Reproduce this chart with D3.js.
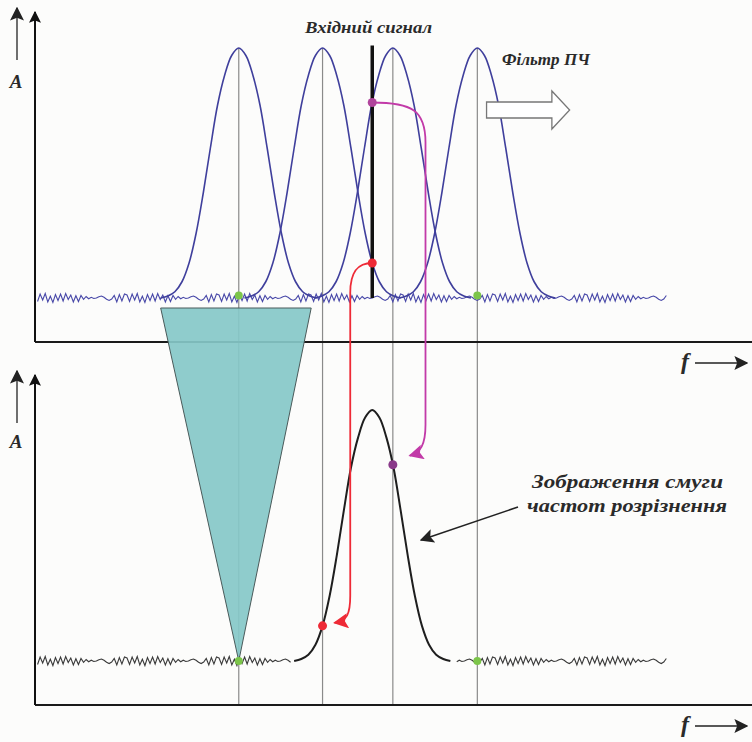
<!DOCTYPE html>
<html>
<head>
<meta charset="utf-8">
<script src="https://cdn.jsdelivr.net/npm/d3@7"></script>
<style>
  body { margin: 0; background: #fcfcfb; }
  svg { display: block; }
  .lbl { font-family: "Liberation Serif", "DejaVu Serif", serif; font-weight: bold; font-style: italic; fill: #2a2a2a; }
</style>
</head>
<body>
<div id="chart"></div>
<script>
// Filter centre frequencies (arbitrary f units, 0..100)
var filterCenters = [28.7, 40.5, 50.4, 62.3];
// Input signal
var signalFreq = 47.5;
var signalAmp = 1.01;
// Filter shape: offset from centre (f units) and relative amplitude
var shapeOffsets = [-11, -10, -9, -8, -7, -6, -5, -4, -3, -2, -1, 0, 1, 2, 3, 4, 5, 6, 7, 8, 9, 10, 11];
var shapeValues  = [0, 0.008, 0.025, 0.065, 0.14, 0.26, 0.42, 0.6, 0.77, 0.89, 0.97, 1, 0.97, 0.89, 0.77, 0.6, 0.42, 0.26, 0.14, 0.065, 0.025, 0.008, 0];
// Noise floor pattern (amplitude units), repeated along the axis
var noisePattern = [0.012, -0.014, 0.016, -0.008, 0.018, -0.016, 0.007, -0.018, 0.014, -0.01, 0.016, -0.012, 0.018, -0.006, 0.012, -0.016, 0.009, -0.014, 0.01, -0.005, 0.006, -0.003, 0.003, -0.002, 0, 0.005, 0.008, 0.003, -0.005, -0.01, -0.004, 0.01, -0.016, 0.014, -0.012, 0.016];
var noiseStep = 0.36;
var noiseEnd = 89.2;
// Frequencies where green "zero response" dots sit
var zeroDots = [28.7, 62.3];
// Texts
var signalLabel = "Вхідний сигнал";
var filterLabel = "Фільтр ПЧ";
var rbwLabel = ["Зображення смуги", "частот розрізнення"];

var W = 752, H = 742;
var svg = d3.select("#chart").append("svg").attr("width", W).attr("height", H);

var x = d3.scaleLinear().domain([0, 100]).range([35, 745]);
var yTop = d3.scaleLinear().domain([0, 1]).range([298, 48]);
var yBot = d3.scaleLinear().domain([0, 1]).range([661, 410]);

// filter response at offset df (linear interpolation of the shape table)
function shapeAt(df) {
  if (df <= shapeOffsets[0] || df >= shapeOffsets[shapeOffsets.length - 1]) return 0;
  var i = d3.bisectRight(shapeOffsets, df) - 1;
  var t = (df - shapeOffsets[i]) / (shapeOffsets[i + 1] - shapeOffsets[i]);
  return shapeValues[i] + t * (shapeValues[i + 1] - shapeValues[i]);
}

function noisePoints(f0, f1) {
  var pts = [];
  var k = Math.round(f0 / noiseStep);
  for (var f = k * noiseStep; f <= f1; f += noiseStep, k++) {
    pts.push([f, noisePattern[k % noisePattern.length]]);
  }
  return pts;
}

var defs = svg.append("defs");
function marker(id, color, size) {
  defs.append("marker").attr("id", id)
    .attr("viewBox", "0 0 10 10").attr("refX", 9).attr("refY", 5)
    .attr("markerWidth", size).attr("markerHeight", size).attr("markerUnits", "userSpaceOnUse")
    .attr("orient", "auto")
    .append("path").attr("d", "M0,0 L10,5 L0,10 L2,5 Z").attr("fill", color);
}
marker("mMag", "#c23aa8", 15);
marker("mRed", "#ee2a36", 15);
marker("mBlk", "#222", 14);
marker("mAx", "#111", 12);

// vertical guide lines at filter centres
svg.append("g").selectAll("line").data(filterCenters).join("line")
  .attr("x1", d => x(d)).attr("x2", d => x(d))
  .attr("y1", yTop(1)).attr("y2", 705)
  .attr("stroke", "#8a8a8a").attr("stroke-width", 1.2);

// top panel noise floor
var lineTop = d3.line().x(d => x(d[0])).y(d => yTop(d[1]));
svg.append("path").datum(noisePoints(0.2, noiseEnd)).attr("d", lineTop)
  .attr("fill", "none").attr("stroke", "#4848a8").attr("stroke-width", 1.1);

// filter curves
var curveTop = d3.line().x(d => x(d[0])).y(d => yTop(d[1])).curve(d3.curveCatmullRom);
svg.append("g").selectAll("path").data(filterCenters).join("path")
  .attr("d", c => curveTop(shapeOffsets.map((o, i) => [c + o, shapeValues[i]])))
  .attr("fill", "none").attr("stroke", "#3f3f9c").attr("stroke-width", 1.6);

// input signal
svg.append("line")
  .attr("x1", x(signalFreq)).attr("x2", x(signalFreq))
  .attr("y1", yTop(signalAmp)).attr("y2", yTop(0))
  .attr("stroke", "#111").attr("stroke-width", 3.5);

// triangle mapping filter width onto the display
var tri = [[filterCenters[0] + shapeOffsets[0], yTop(-0.04)],
           [filterCenters[0] + shapeOffsets[shapeOffsets.length - 1] - 0.8, yTop(-0.04)],
           [filterCenters[0], yBot(0)]];

// axes
function axes(yZero, yTopEnd, aBase) {
  var g = svg.append("g");
  g.append("line").attr("x1", x(0)).attr("x2", W).attr("y1", yZero).attr("y2", yZero)
    .attr("stroke", "#1a1a1a").attr("stroke-width", 2);
  g.append("line").attr("x1", x(0)).attr("x2", x(0)).attr("y1", yZero).attr("y2", yTopEnd + 4)
    .attr("stroke", "#111").attr("stroke-width", 2).attr("marker-end", "url(#mAx)");
  g.append("line").attr("x1", 17).attr("x2", 17).attr("y1", yTopEnd + 52).attr("y2", yTopEnd)
    .attr("stroke", "#222").attr("stroke-width", 1.3).attr("marker-end", "url(#mBlk)");
  g.append("text").attr("class", "lbl").attr("x", 16).attr("y", aBase)
    .attr("text-anchor", "middle").attr("font-size", 19).text("A");
  g.append("text").attr("class", "lbl").attr("x", 685).attr("y", yZero + 27)
    .attr("text-anchor", "middle").attr("font-size", 24).text("f");
  g.append("line").attr("x1", 695).attr("x2", 747).attr("y1", yZero + 21).attr("y2", yZero + 21)
    .attr("stroke", "#222").attr("stroke-width", 1.3).attr("marker-end", "url(#mBlk)");
}
axes(342, 8, 88);
axes(705, 371, 448);

svg.append("path")
  .attr("d", "M" + tri.map(p => x(p[0]) + "," + p[1]).join("L") + "Z")
  .attr("fill", "#86c8c8").attr("fill-opacity", 0.92)
  .attr("stroke", "#4a5a5a").attr("stroke-width", 1);

// bottom panel: noise + displayed response
var lineBot = d3.line().x(d => x(d[0])).y(d => yBot(d[1]));
var respLo = signalFreq + shapeOffsets[0], respHi = signalFreq + shapeOffsets[shapeOffsets.length - 1];
svg.append("path").datum(noisePoints(0.2, respLo - 0.3)).attr("d", lineBot)
  .attr("fill", "none").attr("stroke", "#3a3a3a").attr("stroke-width", 1.1);
svg.append("path").datum(noisePoints(respHi + 0.9, noiseEnd)).attr("d", lineBot)
  .attr("fill", "none").attr("stroke", "#3a3a3a").attr("stroke-width", 1.1);
var curveBot = d3.line().x(d => x(d[0])).y(d => yBot(d[1])).curve(d3.curveCatmullRom);
svg.append("path").attr("d", curveBot(shapeOffsets.map((o, i) => [signalFreq + o, shapeValues[i]])))
  .attr("fill", "none").attr("stroke", "#1e1e1e").attr("stroke-width", 2);

// response values of the two filters around the signal
var magVal = shapeAt(signalFreq - filterCenters[2]);
var redVal = shapeAt(signalFreq - filterCenters[1]);

// transfer arrows
var sx = x(signalFreq);
var magX = x(signalFreq + 7.5);
var magPath = d3.path();
magPath.moveTo(sx, yTop(magVal));
magPath.bezierCurveTo(sx + 40, yTop(magVal), magX, yTop(magVal) + 8, magX, yTop(magVal) + 40);
magPath.lineTo(magX, yBot(magVal) - 40);
magPath.bezierCurveTo(magX, yBot(magVal) - 20, magX - 5, yBot(magVal) - 12, x(filterCenters[2]) + 17, yBot(magVal) - 9);
svg.append("path").attr("d", magPath.toString()).attr("fill", "none")
  .attr("stroke", "#c23aa8").attr("stroke-width", 1.8).attr("marker-end", "url(#mMag)");

var redX = x(signalFreq - 3.1);
var redPath = d3.path();
redPath.moveTo(sx, yTop(redVal));
redPath.bezierCurveTo(sx - 14, yTop(redVal), redX, yTop(redVal) + 8, redX, yTop(redVal) + 30);
redPath.lineTo(redX, yBot(redVal) - 30);
redPath.bezierCurveTo(redX, yBot(redVal) - 12, redX - 3, yBot(redVal) - 5, x(filterCenters[1]) + 12, yBot(redVal) - 3);
svg.append("path").attr("d", redPath.toString()).attr("fill", "none")
  .attr("stroke", "#ee2a36").attr("stroke-width", 1.8).attr("marker-end", "url(#mRed)");

// dots
svg.append("circle").attr("cx", sx).attr("cy", yTop(magVal)).attr("r", 4.5).attr("fill", "#b0449c");
svg.append("circle").attr("cx", sx).attr("cy", yTop(redVal)).attr("r", 4.5).attr("fill", "#ee2a36");
svg.append("circle").attr("cx", x(filterCenters[2])).attr("cy", yBot(magVal)).attr("r", 4.5).attr("fill", "#8a3a8a");
svg.append("circle").attr("cx", x(filterCenters[1])).attr("cy", yBot(redVal)).attr("r", 4.5).attr("fill", "#ee2a36");
svg.append("g").selectAll("circle").data(zeroDots.flatMap(f => [[f, yTop(0.01)], [f, yBot(0)]])).join("circle")
  .attr("cx", d => x(d[0])).attr("cy", d => d[1]).attr("r", 4).attr("fill", "#7cc54a");

// hollow sweep arrow
var ay = 110;
svg.append("path")
  .attr("d", "M" + x(63.6) + "," + (ay - 8) + "H" + x(72.8) + "V" + (ay - 19) + "L" + x(75.3) + "," + ay +
             "L" + x(72.8) + "," + (ay + 19) + "V" + (ay + 8) + "H" + x(63.6) + "Z")
  .attr("fill", "#fff").attr("stroke", "#777").attr("stroke-width", 1.3);

// labels
svg.append("text").attr("class", "lbl").attr("x", 305).attr("y", 33)
  .attr("font-size", 16).attr("textLength", 127).attr("lengthAdjust", "spacingAndGlyphs").text(signalLabel);
svg.append("text").attr("class", "lbl").attr("x", 502).attr("y", 65)
  .attr("font-size", 17).attr("textLength", 88).attr("lengthAdjust", "spacingAndGlyphs").text(filterLabel);
svg.append("text").attr("class", "lbl").attr("x", 532).attr("y", 488)
  .attr("font-size", 19).attr("textLength", 191).attr("lengthAdjust", "spacingAndGlyphs").text(rbwLabel[0]);
svg.append("text").attr("class", "lbl").attr("x", 527).attr("y", 512)
  .attr("font-size", 19).attr("textLength", 200).attr("lengthAdjust", "spacingAndGlyphs").text(rbwLabel[1]);

// pointer to the response curve
svg.append("line").attr("x1", 518).attr("y1", 507).attr("x2", 421).attr("y2", 540)
  .attr("stroke", "#222").attr("stroke-width", 1.5).attr("marker-end", "url(#mBlk)");
</script>
</body>
</html>
